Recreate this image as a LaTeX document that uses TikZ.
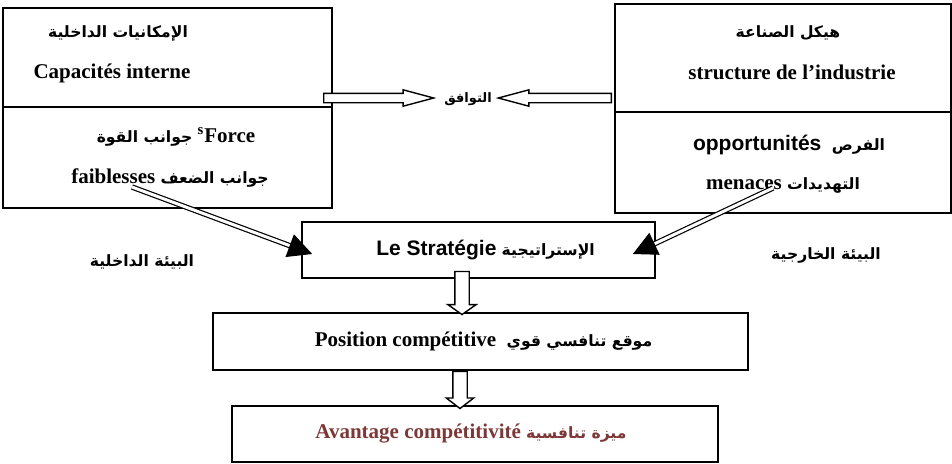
\documentclass[tikz,border=0pt]{standalone}
\usepackage{fontspec}
\setmainfont{Liberation Serif}
\newfontfamily\sansfont{Liberation Sans}
\newfontfamily\arabicfont[Script=Arabic]{DejaVu Sans}
\usetikzlibrary{arrows.meta,shapes.arrows}
\TeXXeTstate=1
\newcommand{\artxt}[1]{{\arabicfont\bfseries\fontsize{7.8}{9}\selectfont\beginR #1\endR}}
\definecolor{rojooscuro}{RGB}{125,55,55}
\tikzset{
  caja/.style={draw, line width=0.8pt, inner sep=0pt, font=\bfseries\fontsize{10.5}{12}\selectfont},
  texto/.style={inner sep=0pt, font=\bfseries\fontsize{10.5}{12}\selectfont},
  flechabloque/.style={single arrow, draw, fill=white, line width=0.7pt, single arrow head indent=0pt},
  flechadoble/.style={double, double distance=1.5pt, line width=0.6pt, -{Triangle[length=12pt,width=12pt]}},
}
\begin{document}
\begin{tikzpicture}[x=0.5pt, y=-0.5pt]
    \useasboundingbox (0,0) rectangle (952,463);

    % Cajas del entorno interno
    \node[caja, minimum width=164.5pt, minimum height=49.5pt] (intSup) at (167.5,57.5) {};
    \node[caja, minimum width=164.5pt, minimum height=50.5pt] (intInf) at (167.5,157.5) {};
    \node[texto] (tInt) at (118,33) {\artxt{الإمكانيات الداخلية}};
    \node[texto] (tCap) at (112,73) {Capacités interne};
    \node[texto] (tFor) at (176,137) {\artxt{جوانب القوة}\ \textsuperscript{s}Force};
    \node[texto] (tFai) at (170,178) {faiblesses \artxt{جوانب الضعف}};

    % Cajas del entorno externo
    \node[caja, minimum width=168pt, minimum height=54pt] (extSup) at (783,58) {};
    \node[caja, minimum width=168pt, minimum height=50.5pt] (extInf) at (783,162.5) {};
    \node[texto] (tHay) at (788,33) {\artxt{هيكل الصناعة}};
    \node[texto] (tStr) at (792,72) {structure de l’industrie};
    \node[texto] (tOpp) at (789,145) {{\sansfont opportunités}\ \ \artxt{الفرص}};
    \node[texto] (tMen) at (783,185) {menaces \artxt{التهديدات}};

    % Ajuste entre ambos
    \node[inner sep=0pt] (ajuste) at (468,99) {{\arabicfont\bfseries\fontsize{6.5}{8}\selectfont\beginR التوافق\endR}};
    \node[flechabloque, inner sep=2pt, minimum height=55pt, single arrow head extend=1.75pt,
          single arrow tip angle=30, anchor=tail] (flIzq) at (323,98) {};
    \node[flechabloque, inner sep=2pt, minimum height=56.5pt, single arrow head extend=1.75pt,
          single arrow tip angle=30, shape border rotate=180, anchor=tail] (flDer) at (612,98) {};

    % Estrategia, posicion y ventaja
    \node[caja, minimum width=176.5pt, minimum height=28pt] (estr) at (478.5,250)
      {\hspace*{7pt}{\sansfont Le Stratégie} \artxt{الإستراتيجية}};
    \node[caja, minimum width=267.5pt, minimum height=28.5pt] (posi) at (480.5,341.5)
      {\hspace*{3pt}Position compétitive \ \artxt{موقع تنافسي قوي}};
    \node[caja, minimum width=243pt, minimum height=28pt, text=rojooscuro] (vent) at (475,434)
      {Avantage compétitivité \artxt{ميزة تنافسية}\hspace*{4pt}};

    % Etiquetas del entorno
    \node[texto] (bInt) at (142,262) {\artxt{البيئة الداخلية}};
    \node[texto] (bExt) at (826,255) {\artxt{البيئة الخارجية}};

    % Flechas hacia abajo
    \node[flechabloque, inner sep=3.25pt, minimum height=21.5pt, single arrow head extend=3.5pt,
          single arrow tip angle=110, shape border rotate=270, anchor=tail] (flBaj1) at ([yshift=4pt]estr.south -| 462,0) {};
    \node[flechabloque, inner sep=3.25pt, minimum height=18.5pt, single arrow head extend=3.25pt,
          single arrow tip angle=105, shape border rotate=270, anchor=tail] (flBaj2) at (posi.south -| 460,0) {};

    % Flechas dobles hacia la estrategia
    \coordinate (oInt) at (132,187);
    \coordinate (oExt) at (773,188);
    \draw[flechadoble] (oInt) -- ([shift={(11,4)}]estr.west);
    \draw[flechadoble] (oExt) -- ([shift={(-23,4)}]estr.east);
\end{tikzpicture}
\end{document}
